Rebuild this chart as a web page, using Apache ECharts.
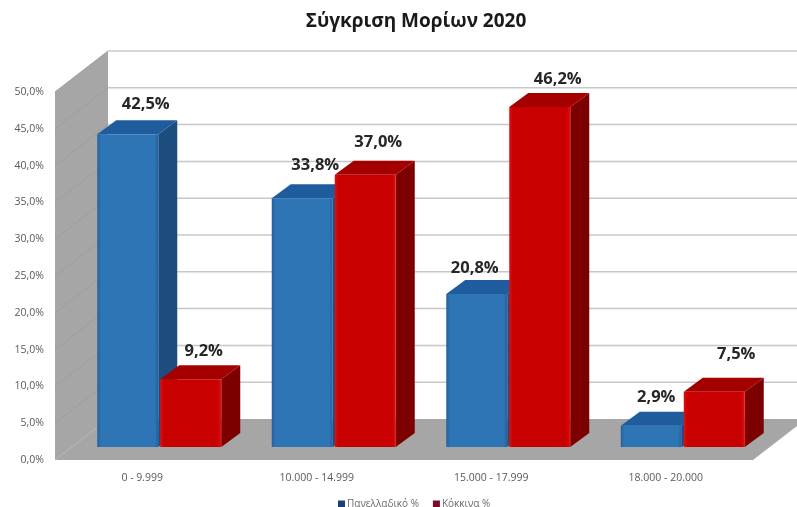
<!DOCTYPE html>
<html>
<head>
<meta charset="utf-8">
<style>html,body{margin:0;padding:0;background:#fff}#c{width:797px;height:507px;filter:blur(0.5px)}</style>
<script src="https://cdn.jsdelivr.net/npm/echarts@6/dist/echarts.min.js"></script>
</head>
<body>
<div id="c"></div>
<script>
var categories = ['0 - 9.999', '10.000 - 14.999', '15.000 - 17.999', '18.000 - 20.000'];
var panhellenicValues = [42.5, 33.8, 20.8, 2.9];
var redValues = [9.2, 37.0, 46.2, 7.5];
var yTicks = [0, 5, 10, 15, 20, 25, 30, 35, 40, 45, 50];
var blueNudge = [[-1, 2], [-6, -1], [-21, 6], [-14, 4]];
var redNudge = [[-6, 4], [-6, 0], [-1, 4], [3, -6]];

var WALL_DX = 53, WALL_DY = -41, BAR_DX = 18, BAR_DY = -13, TOP_DX = 19, TOP_DY = -14, BAR_W = 61;
var FONT = '"Open Sans","Noto Sans",sans-serif';

function pct(v) { return v.toFixed(1).replace('.', ',') + '%'; }

function renderWalls(params, api) {
  var o = api.coord([0, 0]);
  var t = api.coord([0, 50]);
  var x0 = params.coordSys.x, w = params.coordSys.width;
  var y0 = o[1], y1 = t[1];
  var kids = [
    { type: 'polygon', shape: { points: [[x0, y0], [x0 + WALL_DX, y0 + WALL_DY], [x0 + WALL_DX, y1 + WALL_DY], [x0, y1]] }, style: { fill: '#a6a6a6' } },
    { type: 'polygon', shape: { points: [[x0, y0], [x0 + w, y0], [x0 + w + WALL_DX, y0 + WALL_DY], [x0 + WALL_DX, y0 + WALL_DY]] }, style: { fill: '#a6a6a6' } }
  ];
  yTicks.forEach(function (v) {
    var y = api.coord([0, v])[1];
    if (v > 0) {
      kids.push({ type: 'line', shape: { x1: x0 + WALL_DX, y1: y + WALL_DY, x2: x0 + w + WALL_DX, y2: y + WALL_DY }, style: { stroke: '#c8c8c8', lineWidth: 1.5 } });
      kids.push({ type: 'line', shape: { x1: x0, y1: y, x2: x0 + WALL_DX, y2: y + WALL_DY }, style: { stroke: '#9e9e9e', lineWidth: 1 } });
    }
  });
  return { type: 'group', children: kids };
}

function barRenderer(side, front, frontEdge, topFill, sideFill, nudge) {
  return function (params, api) {
    var i = api.value(0), v = api.value(1);
    var c = api.coord([i, v]);
    var b = api.coord([i, 0]);
    var cx = c[0] + BAR_DX;
    var xl = side < 0 ? cx - BAR_W - 2 : cx;
    var xr = xl + BAR_W;
    var yt = c[1] + BAR_DY, yb = b[1] + BAR_DY;
    var n = nudge[i];
    return {
      type: 'group',
      children: [
        { type: 'polygon', shape: { points: [[xr, yt], [xr + TOP_DX, yt + TOP_DY], [xr + TOP_DX, yb + TOP_DY], [xr, yb]] }, style: { fill: sideFill } },
        { type: 'polygon', shape: { points: [[xl, yt], [xl + TOP_DX, yt + TOP_DY], [xr + TOP_DX, yt + TOP_DY], [xr, yt]] }, style: { fill: topFill } },
        { type: 'rect', shape: { x: xl, y: yt, width: BAR_W, height: yb - yt }, style: {
          fill: new echarts.graphic.LinearGradient(0, 0, 1, 0, [
            { offset: 0, color: frontEdge }, { offset: 0.06, color: front }, { offset: 0.94, color: front }, { offset: 1, color: frontEdge }
          ]) } },
        { type: 'text', style: {
          x: xl + BAR_W / 2 + TOP_DX + n[0], y: yt + TOP_DY - 18 + n[1],
          text: pct(v), fill: '#262626', font: 'bold 16.5px ' + FONT, align: 'center', verticalAlign: 'middle'
        } }
      ]
    };
  };
}

function rows(arr) { return arr.map(function (v, i) { return [i, v]; }); }

var chart = echarts.init(document.getElementById('c'), null, { renderer: 'canvas' });
chart.setOption({
  animation: false,
  backgroundColor: '#ffffff',
  title: {
    text: 'Σύγκριση Μορίων 2020', left: 411, top: 7, textAlign: 'center',
    textStyle: { fontFamily: FONT, fontWeight: 'bold', fontSize: 19, color: '#1a1a1a' }
  },
  legend: {
    top: 494, left: 333, itemWidth: 7, itemHeight: 7, itemGap: 14,
    icon: 'rect',
    textStyle: { fontFamily: FONT, fontSize: 10, color: '#6a6a6a', padding: [0, 0, 0, -3] },
    data: [
      { name: 'Πανελλαδικό %', itemStyle: { color: '#1f3f73' } },
      { name: 'Κόκκινα %', itemStyle: { color: '#7d0a24' } }
    ]
  },
  grid: { left: 55, top: 92, width: 698, height: 368, containLabel: false },
  xAxis: {
    type: 'category', data: categories,
    axisLine: { show: false }, axisTick: { show: false }, splitLine: { show: false },
    axisLabel: { fontFamily: FONT, fontSize: 10.5, color: '#595959', margin: 13 }
  },
  yAxis: {
    type: 'value', min: 0, max: 50, interval: 5,
    axisLine: { show: false }, axisTick: { show: false }, splitLine: { show: false },
    axisLabel: { fontFamily: FONT, fontSize: 10.5, color: '#595959', margin: 11, formatter: function (v) { return pct(v); } }
  },
  series: [
    { type: 'custom', name: 'walls', silent: true, clip: false, z: 1, renderItem: renderWalls, data: [[0, 0]], encode: { x: 0, y: 1 } },
    { type: 'custom', name: 'Πανελλαδικό %', clip: false, z: 2, itemStyle: { color: '#2e75b6' },
      renderItem: barRenderer(-1, '#2e75b6', '#25609c', '#1f5c9e', '#1d4c7e', blueNudge), data: rows(panhellenicValues), encode: { x: 0, y: 1 } },
    { type: 'custom', name: 'Κόκκινα %', clip: false, z: 3, itemStyle: { color: '#c80000' },
      renderItem: barRenderer(1, '#c80000', '#e01010', '#a50000', '#7c0000', redNudge), data: rows(redValues), encode: { x: 0, y: 1 } }
  ]
});
</script>
</body>
</html>
